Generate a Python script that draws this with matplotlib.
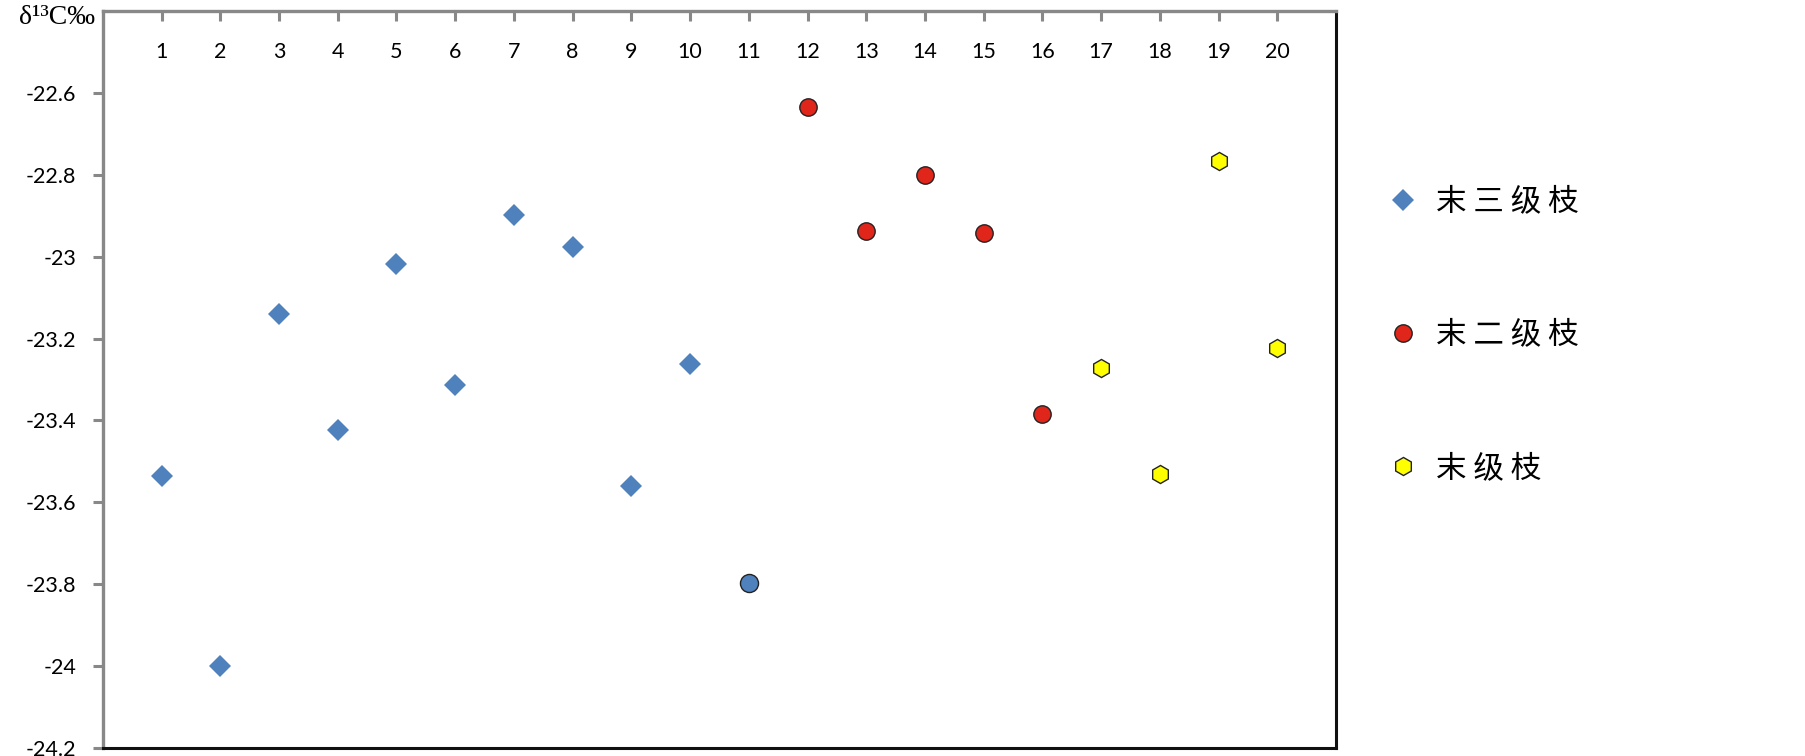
import matplotlib
matplotlib.use('Agg')
import matplotlib.pyplot as plt
from matplotlib.transforms import blended_transform_factory

# data
samples = list(range(1, 21))
x_3rd = [1, 2, 3, 4, 5, 6, 7, 8, 9, 10]
y_3rd = [-23.536, -24.0, -23.140, -23.424, -23.019, -23.314, -22.898, -22.977, -23.561, -23.261]
x_odd = [11]
y_odd = [-23.797]
x_2nd = [12, 13, 14, 15, 16]
y_2nd = [-22.634, -22.937, -22.800, -22.943, -23.384]
x_1st = [17, 18, 19, 20]
y_1st = [-23.272, -23.530, -22.766, -23.224]
yticks = [-24.2, -24, -23.8, -23.6, -23.4, -23.2, -23, -22.8, -22.6]
labels = ['末 三 级 枝', '末 二 级 枝', '末 级 枝']

blue = '#4F81BD'
red = '#E0261B'
yellow = '#FFFF00'
gray = '#888888'

fig = plt.figure(figsize=(18.05, 7.56), dpi=100)
ax = fig.add_axes([0.0570, 0.0106, 0.6832, 0.9749])

ax.plot(x_3rd, y_3rd, 'D', ms=11, color=blue, mec=blue, mew=0, label=labels[0])
ax.plot(x_odd, y_odd, 'o', ms=13, color=blue, mec='#222222', mew=1.0)
ax.plot(x_2nd, y_2nd, 'o', ms=12.5, color=red, mec='#222222', mew=1.0, label=labels[1])
ax.plot(x_1st, y_1st, 'h', ms=13, color=yellow, mec='#222222', mew=1.0, label=labels[2])

ax.set_xlim(0, 21)
ax.set_ylim(-24.2, -22.4)

ax.set_yticks(yticks)
ax.set_yticklabels(['%g' % v for v in yticks], family='Lato', fontsize=15.5)
ax.set_xticks(samples)
ax.set_xticklabels([])
ax.xaxis.set_ticks_position('top')
ax.tick_params(axis='x', direction='in', length=7, width=2.2, color=gray)
ax.tick_params(axis='y', direction='out', length=7, width=2.2, color=gray, pad=12)

tr = blended_transform_factory(ax.transData, ax.transAxes)
for s in samples:
    ax.text(s, 0.944, str(s), transform=tr, ha='center', va='center',
            family='Lato', fontsize=15.5)

for side in ['left', 'top']:
    ax.spines[side].set_color(gray)
    ax.spines[side].set_linewidth(2.4)
for side in ['right', 'bottom']:
    ax.spines[side].set_color('#111111')
    ax.spines[side].set_linewidth(2.2)

fig.text(95 / 1805, 1 - 17 / 756, 'δ¹³C‰', ha='right', va='center',
         family='Liberation Serif', fontsize=20)

leg = ax.legend(loc='upper left', bbox_to_anchor=(1375 / 1805, 1 - 174 / 756),
                bbox_transform=fig.transFigure, frameon=False, labelspacing=3.35,
                handlelength=1.0, handletextpad=0.6, borderaxespad=0,
                prop={'family': ['Noto Sans CJK SC', 'DejaVu Sans'], 'size': 22})

fig.savefig('out.png', dpi=100, facecolor='white')
